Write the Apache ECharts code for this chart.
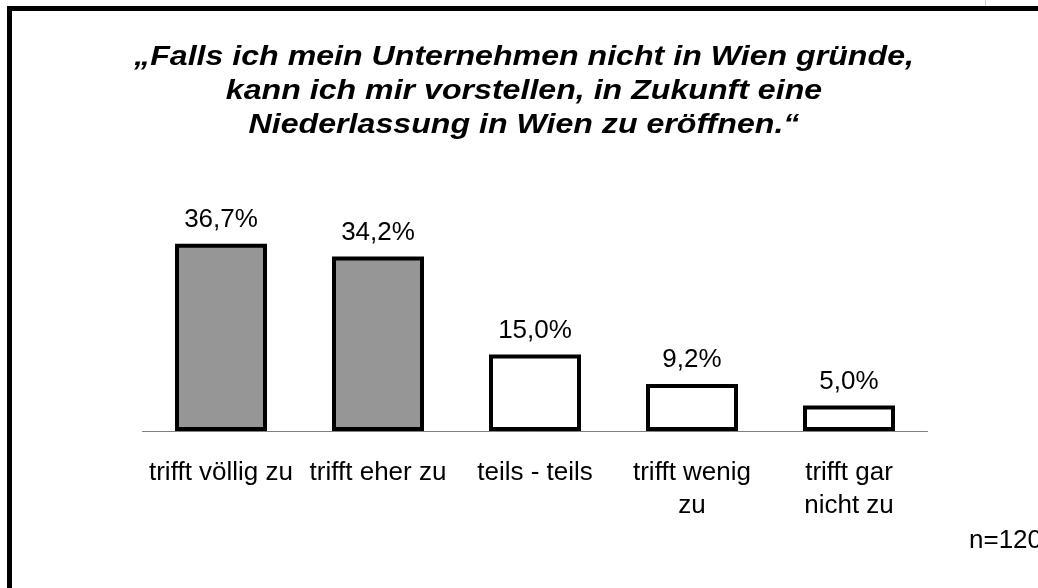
<!DOCTYPE html>
<html>
<head>
<meta charset="utf-8">
<script src="https://cdn.jsdelivr.net/npm/echarts@6/dist/echarts.min.js"></script>
<style>
  html, body { margin: 0; padding: 0; background: #fff; }
  #chart { width: 1038px; height: 588px; }
</style>
</head>
<body>
<div id="chart"></div>
<script>
// Antworten und Anteile in Prozent
let categories = ['trifft völlig zu', 'trifft eher zu', 'teils - teils', 'trifft wenig\nzu', 'trifft gar\nnicht zu']
let values = [36.7, 34.2, 15.0, 9.2, 5.0]
let titleLines = [
  '„Falls ich mein Unternehmen nicht in Wien gründe,',
  'kann ich mir vorstellen, in Zukunft eine',
  'Niederlassung in Wien zu eröffnen.“'
]
let note = 'n=120'

let font = '"Liberation Sans", Arial, sans-serif'

let myChart = echarts.init(document.getElementById('chart'))
myChart.setOption({
  animation: false,
  backgroundColor: '#fff',
  title: {
    text: note,
    left: 964,
    top: 523,
    textStyle: {
      fontFamily: font,
      fontSize: 26,
      fontWeight: 'normal',
      color: '#000',
    },
  },
  graphic: {
    elements: [
      {
        type: 'rect',
        shape: { x: 9.5, y: 8.5, width: 1200, height: 800 },
        style: { fill: 'none', stroke: '#000', lineWidth: 5 },
        silent: true,
      },
      {
        type: 'line',
        shape: { x1: 985.5, y1: 0, x2: 985.5, y2: 6 },
        style: { stroke: '#d0d0d0', lineWidth: 1 },
        silent: true,
      },
      {
        // Titel etwas breiter gezogen wie im Original
        type: 'text',
        x: 524,
        y: 41,
        scaleX: 1.19,
        silent: true,
        style: {
          text: titleLines.join('\n'),
          fontFamily: font,
          fontSize: 27,
          fontWeight: 'bold',
          fontStyle: 'italic',
          lineHeight: 34,
          fill: '#000',
          align: 'center',
          verticalAlign: 'top',
        },
      },
    ],
  },
  grid: {
    left: 142.5,
    right: 110.5,
    top: 227,
    bottom: 157,
  },
  xAxis: {
    type: 'category',
    data: categories,
    axisLine: { lineStyle: { color: '#808080', width: 1 } },
    axisTick: { show: false },
    axisLabel: {
      interval: 0,
      margin: 25,
      fontFamily: font,
      fontSize: 26,
      lineHeight: 33,
      color: '#000',
    },
  },
  yAxis: {
    type: 'value',
    min: 0,
    max: 40,
    show: false,
    splitLine: { show: false },
  },
  series: [
    {
      type: 'bar',
      data: values,
      barWidth: 92,
      itemStyle: {
        color: function (params) {
          return params.dataIndex < 2 ? '#969696' : '#ffffff'
        },
        borderColor: '#000',
        borderWidth: 4,
      },
      label: {
        show: true,
        position: 'top',
        distance: 11,
        fontFamily: font,
        fontSize: 26,
        color: '#000',
        formatter: function (params) {
          return params.value.toFixed(1).replace('.', ',') + '%'
        },
      },
    },
  ],
})
</script>
</body>
</html>
